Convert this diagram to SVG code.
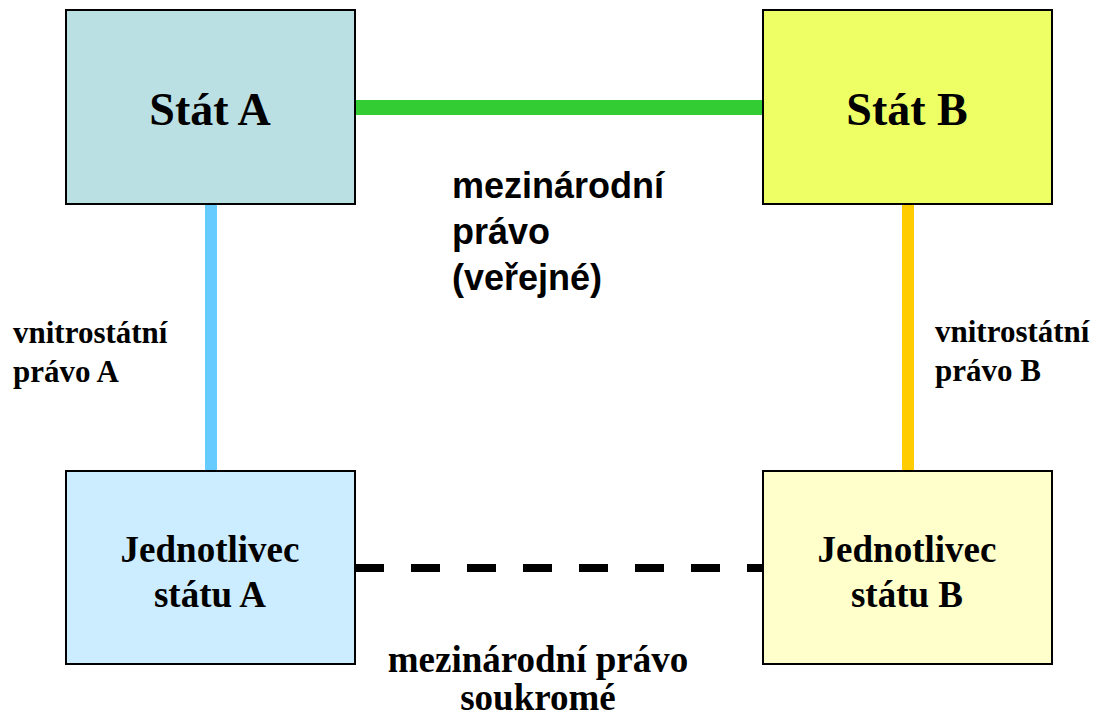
<svg xmlns="http://www.w3.org/2000/svg" width="1101" height="716" viewBox="0 0 1101 716">
<style>
.box{stroke:#000;stroke-width:2}
.serif{font-family:"Liberation Serif","Times New Roman",serif;font-weight:bold;fill:#000}
.sans{font-family:"Liberation Sans",Arial,sans-serif;font-weight:bold;fill:#000}
.big{font-size:46px}
.mid{font-size:37px}
.small{font-size:31px}
</style>
<rect width="1101" height="716" fill="#fff"/>
<g id="connectors">
<line x1="355" y1="107.5" x2="763" y2="107.5" stroke="#33CC33" stroke-width="15"/>
<line x1="211" y1="204" x2="211" y2="471" stroke="#66CCFF" stroke-width="12"/>
<line x1="908" y1="204" x2="908" y2="471" stroke="#FFCC00" stroke-width="12"/>
<line x1="355" y1="568" x2="763" y2="568" stroke="#000" stroke-width="8" stroke-dasharray="29 27"/>
</g>
<g id="statA">
<rect class="box" x="66" y="10" width="289" height="194" fill="#BBE0E3"/>
<text class="serif big" x="210" y="125" text-anchor="middle">Stát A</text>
</g>
<g id="statB">
<rect class="box" x="763" y="10" width="289" height="194" fill="#EEFF66"/>
<text class="serif big" x="907" y="125" text-anchor="middle">Stát B</text>
</g>
<g id="jednotlivecA">
<rect class="box" x="66" y="471" width="289" height="193" fill="#CCECFF"/>
<text class="serif mid" x="210" y="562" text-anchor="middle">Jednotlivec</text>
<text class="serif mid" x="210" y="607" text-anchor="middle">státu A</text>
</g>
<g id="jednotlivecB">
<rect class="box" x="763" y="471" width="289" height="193" fill="#FFFFCC"/>
<text class="serif mid" x="907" y="562" text-anchor="middle">Jednotlivec</text>
<text class="serif mid" x="907" y="607" text-anchor="middle">státu B</text>
</g>
<g id="labels">
<text class="sans" font-size="36" x="452" y="198">mezinárodní</text>
<text class="sans" font-size="36" x="452" y="244">právo</text>
<text class="sans" font-size="36" x="452" y="290">(veřejné)</text>
<text class="serif small" x="13" y="343">vnitrostátní</text>
<text class="serif small" x="13" y="382">právo A</text>
<text class="serif small" x="935" y="342">vnitrostátní</text>
<text class="serif small" x="935" y="381">právo B</text>
<text class="serif mid" x="538" y="672" text-anchor="middle">mezinárodní právo</text>
<text class="serif mid" x="538" y="710" text-anchor="middle">soukromé</text>
</g>
</svg>
